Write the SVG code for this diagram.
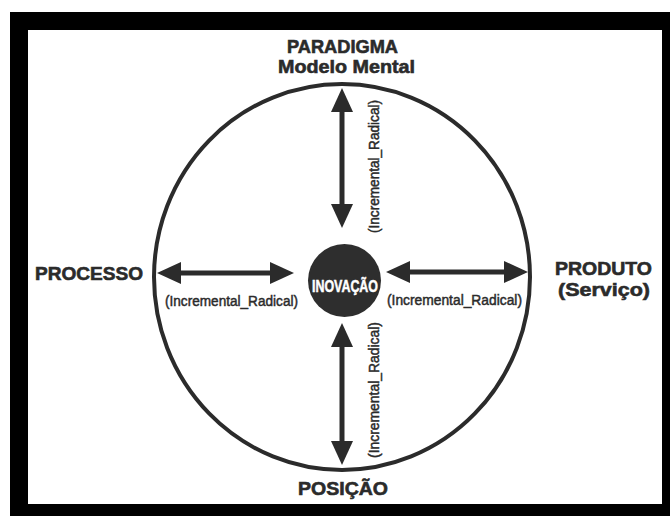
<svg xmlns="http://www.w3.org/2000/svg" width="670" height="516" viewBox="0 0 670 516">
  <style>
    .lbl { font-family: "Liberation Sans", Arial, sans-serif; font-weight: bold; font-size: 18.5px; fill: #2b2b2b; stroke: #2b2b2b; stroke-width: 0.6; }
    .ir { font-family: "Liberation Sans", Arial, sans-serif; font-size: 15.5px; fill: #2b2b2b; stroke: #2b2b2b; stroke-width: 0.5; }
    .shaft { stroke: #2b2b2b; stroke-width: 5; fill: none; }
  </style>
  <defs>
    <marker id="ah" viewBox="0 0 24 22" refX="0" refY="11" markerWidth="24" markerHeight="22" markerUnits="userSpaceOnUse" orient="auto-start-reverse">
      <path d="M0,0 L24,11 L0,22 Z" fill="#2b2b2b"/>
    </marker>
  </defs>

  <rect x="0" y="0" width="670" height="516" fill="#ffffff"/>
  <path d="M10,12 H670 V516 H10 Z M28,30 V504 H662 V30 Z" fill="#000000" fill-rule="evenodd"/>

  <g id="ring">
    <ellipse cx="342" cy="277" rx="188" ry="193" fill="none" stroke="#2b2b2b" stroke-width="4"/>
  </g>

  <g id="inovacao">
    <circle cx="344.5" cy="280.5" r="36.5" fill="#2e2e2e"/>
    <text x="345" y="292" text-anchor="middle" font-family="'Liberation Sans', Arial, sans-serif" font-weight="bold" font-size="16.5" fill="#ffffff" stroke="#ffffff" stroke-width="0.5" textLength="66" lengthAdjust="spacingAndGlyphs">INOVAÇÃO</text>
  </g>

  <g id="paradigma">
    <text class="lbl" x="342.5" y="53" text-anchor="middle" textLength="111" lengthAdjust="spacingAndGlyphs">PARADIGMA</text>
    <text class="lbl" x="346.5" y="73" text-anchor="middle" textLength="137" lengthAdjust="spacingAndGlyphs">Modelo Mental</text>
  </g>

  <g id="processo">
    <text class="lbl" x="89" y="280" text-anchor="middle" textLength="108" lengthAdjust="spacingAndGlyphs">PROCESSO</text>
  </g>

  <g id="produto">
    <text class="lbl" x="603.5" y="275" text-anchor="middle" textLength="97" lengthAdjust="spacingAndGlyphs">PRODUTO</text>
    <text class="lbl" x="604" y="296" text-anchor="middle" textLength="92" lengthAdjust="spacingAndGlyphs">(Serviço)</text>
  </g>

  <g id="posicao">
    <text class="lbl" x="343" y="495" text-anchor="middle" textLength="90" lengthAdjust="spacingAndGlyphs">POSIÇÃO</text>
  </g>

  <g id="connectors">
    <line class="shaft" x1="181" y1="273" x2="270" y2="273" marker-start="url(#ah)" marker-end="url(#ah)"/>
    <line class="shaft" x1="410" y1="272" x2="504" y2="272" marker-start="url(#ah)" marker-end="url(#ah)"/>
    <line class="shaft" x1="342" y1="112" x2="342" y2="204" marker-start="url(#ah)" marker-end="url(#ah)"/>
    <line class="shaft" x1="342" y1="347" x2="342" y2="441" marker-start="url(#ah)" marker-end="url(#ah)"/>
    <text class="ir" x="231.5" y="306" text-anchor="middle" textLength="133" lengthAdjust="spacingAndGlyphs">(Incremental_Radical)</text>
    <text class="ir" x="454.5" y="305" text-anchor="middle" textLength="135" lengthAdjust="spacingAndGlyphs">(Incremental_Radical)</text>
    <text class="ir" transform="translate(378.5,166.5) rotate(-90)" x="0" y="0" text-anchor="middle" textLength="133" lengthAdjust="spacingAndGlyphs">(Incremental_Radical)</text>
    <text class="ir" transform="translate(378.5,390) rotate(-90)" x="0" y="0" text-anchor="middle" textLength="136" lengthAdjust="spacingAndGlyphs">(Incremental_Radical)</text>
  </g>
</svg>
